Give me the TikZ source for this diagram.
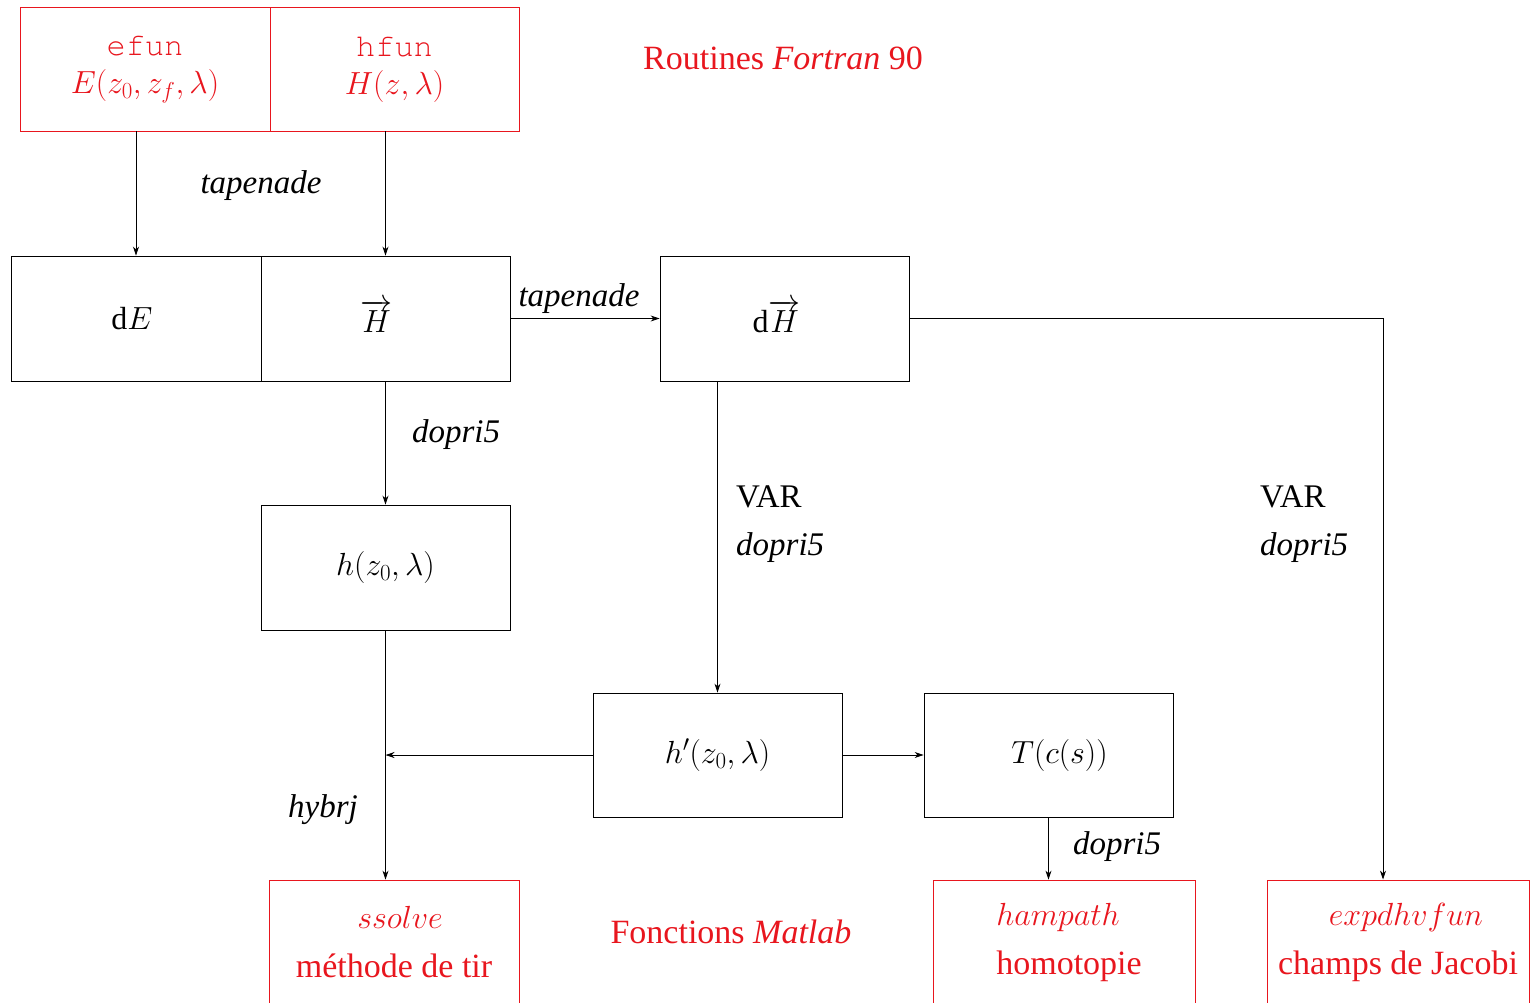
\RequirePackage{fix-cm}
\documentclass[tikz,border=0pt]{standalone}
\usepackage{fontspec}
\setmainfont{Liberation Serif}
\usetikzlibrary{arrows.meta}
\definecolor{myred}{RGB}{232,22,30}
\DeclareMathSizes{32}{32}{23}{17}
\newcommand{\courierfont}{\usefont{OT1}{pcr}{m}{n}}
\begin{document}
\begin{tikzpicture}[x=1pt,y=-1pt,
  box/.style={draw=black, line width=0.9pt, minimum width=250pt, minimum height=125pt, inner sep=0pt, font=\fontsize{32}{38}\selectfont},
  rbox/.style={draw=myred, line width=0.9pt, text=myred, minimum height=125pt, inner sep=0pt, align=center},
  arr/.style={-{Stealth[length=9pt,width=6pt]}, line width=0.8pt},
  lbl/.style={font=\fontsize{33}{40}\selectfont\itshape, inner sep=0pt, yshift=-3pt},
  plain/.style={font=\fontsize{33}{40}\selectfont, inner sep=0pt, yshift=-2pt},
  ttl/.style={font=\fontsize{34}{40}\selectfont, text=myred, inner sep=0pt}
]
\useasboundingbox (0,0) rectangle (1538,1003);
% top red boxes
\node[rbox, minimum width=250pt, minimum height=124pt, font=\fontsize{32}{38}\selectfont] (efun) at (145,69) {{\fontsize{32}{38}\courierfont efun}\\[0pt]$E(z_0,z_f,\lambda)$};
\node[rbox, minimum width=249pt, minimum height=124pt, font=\fontsize{32}{38}\selectfont] (hfun) at (394.5,69) {{\fontsize{32}{38}\courierfont hfun}\\[0pt]$H(z,\lambda)$};
\node[ttl] (fortran) at (783,58) {Routines \textit{Fortran} 90};
% black boxes
\node[box] (dE) at (136,318.5) {\hspace*{-8pt}$\mathrm{d}E$};
\node[box, minimum width=249pt] (Hv) at (385.5,318.5) {\hspace*{-18pt}\raisebox{4pt}{$\overrightarrow{H}$}};
\node[box, minimum width=249pt] (dH) at (784.5,318.5) {\hspace*{-16pt}\raisebox{4pt}{$\mathrm{d}\overrightarrow{H}$}};
\node[box, minimum width=249pt] (h) at (385.5,567.5) {$h(z_0,\lambda)$};
\node[box, minimum width=249pt, minimum height=124pt] (hp) at (717.5,755) {$h'(z_0,\lambda)$};
\node[box, minimum width=249pt, minimum height=124pt] (T) at (1048.5,755) {\hspace*{22pt}$T(c(s))$};
% bottom red boxes
\node[rbox, minimum width=250pt, font=\fontsize{34}{48}\selectfont] (ss) at (394,942.5) {{\fontsize{32}{48}\selectfont\hspace*{12pt}$ssolve$}\\[1pt]m\'ethode de tir};
\node[rbox, minimum width=262pt, font=\fontsize{34}{48}\selectfont] (ham) at (1064,942.5) {{\fontsize{32}{48}\selectfont\hspace*{-12pt}$hampath$}\\[1pt]\hspace*{10pt}homotopie};
\node[rbox, minimum width=262pt, font=\fontsize{34}{48}\selectfont] (exp) at (1398,942.5) {{\fontsize{32}{48}\selectfont\hspace*{16pt}$expdhvfun$}\\[1pt]champs de Jacobi};
\node[ttl] (matlab) at (731,932) {Fonctions \textit{Matlab}};
% coordinate for the long connector
\coordinate (jac) at (1383,0);
% connectors
\draw[arr] (efun.south -| dE.north) -- (dE.north);
\draw[arr] (hfun.south -| Hv.north) -- (Hv.north);
\draw[arr] (Hv.east) -- (dH.west);
\draw[arr] (dH.east) -| (exp.north -| jac);
\draw[arr] (dH.south -| hp.north) -- (hp.north);
\draw[arr] (Hv.south) -- (h.north);
\draw[arr] (h.south) -- (h.south |- ss.north);
\draw[arr] (hp.west) -- (hp.west -| h.south);
\draw[arr] (hp.east) -- (T.west);
\draw[arr] (T.south) -- (T.south |- ham.north);
% labels
\node[lbl] (l1) at (261,183) {tapenade};
\node[lbl] (l2) at (579,296) {tapenade};
\node[lbl] (l3) at (456,432) {dopri5};
\node[plain, anchor=west] (l4) at (736,495) {VAR};
\node[lbl, anchor=west] (l5) at (736,545) {dopri5};
\node[plain, anchor=west] (l6) at (1260,495) {VAR};
\node[lbl, anchor=west] (l7) at (1260,545) {dopri5};
\node[lbl] (l8) at (323,807) {hybrj};
\node[lbl] (l9) at (1117,844) {dopri5};
\end{tikzpicture}
\end{document}
